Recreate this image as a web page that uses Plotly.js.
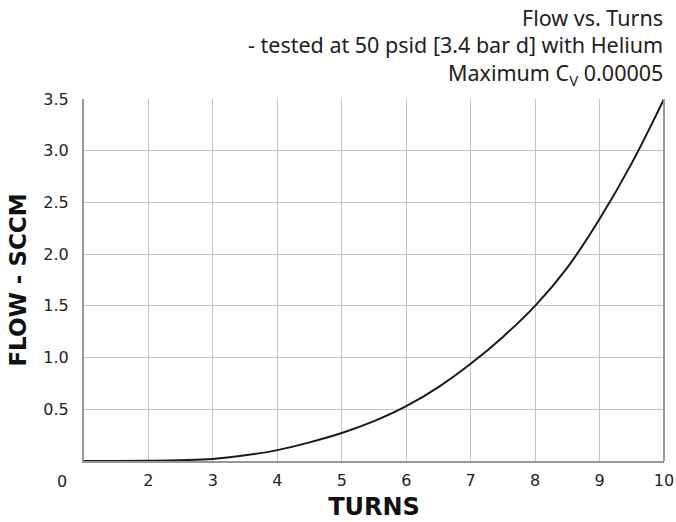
<!DOCTYPE html>
<html>
<head>
<meta charset="utf-8">
<script src="https://cdn.plot.ly/plotly-3.0.1.min.js"></script>
<style>html,body{margin:0;padding:0;background:#fff;}#chart{width:676px;height:522px;}</style>
</head>
<body>
<div id="chart"></div>
<script>
// Data
const turns = [1, 1.5, 2, 2.5, 3, 3.5, 4, 4.5, 5, 5.5, 6, 6.5, 7, 7.5, 8, 8.5, 9, 9.5, 10];
const flowSccm = [0, 0.0005, 0.003, 0.008, 0.02, 0.055, 0.105, 0.18, 0.27, 0.385, 0.53, 0.715, 0.94, 1.2, 1.5, 1.87, 2.34, 2.88, 3.5];
const xTickVals = [2, 3, 4, 5, 6, 7, 8, 9, 10];
const yTickVals = [0.5, 1.0, 1.5, 2.0, 2.5, 3.0, 3.5];
const yTickText = ['0.5', '1.0', '1.5', '2.0', '2.5', '3.0', '3.5'];
const titleLines = ['Flow vs. Turns', '- tested at 50 psid [3.4 bar d] with Helium', 'Maximum C<sub>V</sub> 0.00005'];
const titleLineY = [1.2265, 1.1492, 1.0690];

const trace = {
  x: turns, y: flowSccm, type: 'scatter', mode: 'lines',
  line: {color: '#1a1a1a', width: 2, shape: 'spline', smoothing: 1},
  hoverinfo: 'skip'
};

const tickFont = {family: 'DejaVu Sans', size: 16, color: '#222'};

const annotations = titleLines.map((t, i) => ({
  text: t, xref: 'paper', yref: 'paper', x: 1, y: titleLineY[i], xanchor: 'right', yanchor: 'middle', align: 'right',
  showarrow: false, borderpad: 0, font: {family: 'Noto Sans', size: 21.5, color: '#222'}
}));
annotations.push({text: '0', xref: 'paper', yref: 'paper', x: -0.038, y: 0, yshift: -20, xanchor: 'center', yanchor: 'middle',
  showarrow: false, font: tickFont});

const layout = {
  width: 676, height: 522,
  margin: {l: 84, r: 12, t: 99, b: 61},
  paper_bgcolor: '#ffffff', plot_bgcolor: '#ffffff',
  showlegend: false,
  xaxis: {
    range: [1, 10], tickvals: xTickVals, ticktext: xTickVals.map(String),
    showgrid: true, gridcolor: '#c4c4c4', gridwidth: 1,
    zeroline: false, showline: true, linecolor: '#999', linewidth: 2,
    ticks: '', ticklabelstandoff: 4,
    tickfont: tickFont,
    title: {text: '<b>TURNS</b>', font: {family: 'DejaVu Sans', size: 24, color: '#111'}, standoff: 9}
  },
  yaxis: {
    range: [0, 3.5], tickvals: yTickVals, ticktext: yTickText,
    showgrid: true, gridcolor: '#c4c4c4', gridwidth: 1,
    zeroline: false, showline: true, linecolor: '#999', linewidth: 2,
    ticks: '', ticklabelstandoff: 10,
    tickfont: tickFont,
    title: {text: '<b>FLOW - SCCM</b>', font: {family: 'DejaVu Sans', size: 23, color: '#111'}, standoff: 10}
  },
  shapes: [
    {type: 'line', xref: 'paper', yref: 'paper', x0: 1, x1: 1, y0: 0, y1: 1, line: {color: '#999', width: 2}}
  ],
  annotations: annotations
};

Plotly.newPlot('chart', [trace], layout, {displayModeBar: false, staticPlot: true});
</script>
</body>
</html>
